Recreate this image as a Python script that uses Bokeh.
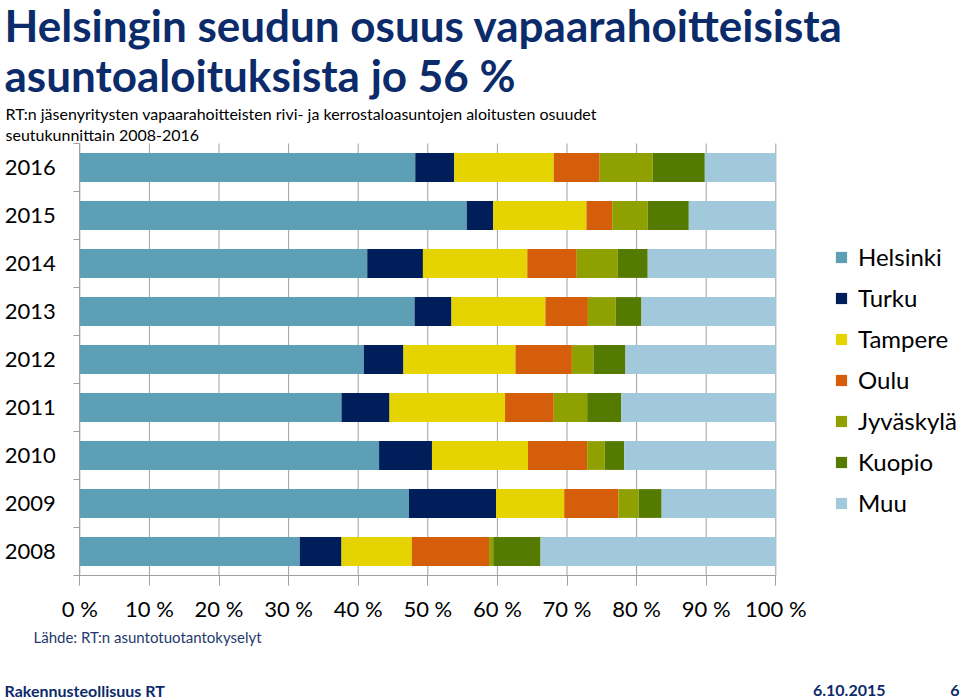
from bokeh.plotting import figure
from bokeh.models import Range1d, FixedTicker, Legend, LegendItem, ColumnDataSource, Label
from bokeh.embed import file_html
from bokeh.resources import INLINE

years = ["2008", "2009", "2010", "2011", "2012", "2013", "2014", "2015", "2016"]
regions = ["Helsinki", "Turku", "Tampere", "Oulu", "Jyväskylä", "Kuopio", "Muu"]
helsinki = [31.6, 47.3, 43.0, 37.6, 40.8, 48.1, 41.3, 55.6, 48.2]
turku = [6.0, 12.5, 7.6, 6.9, 5.7, 5.3, 8.0, 3.8, 5.6]
tampere = [10.1, 9.8, 13.8, 16.6, 16.1, 13.5, 15.0, 13.4, 14.3]
oulu = [11.1, 7.8, 8.5, 7.0, 8.1, 6.1, 7.1, 3.7, 6.6]
jyvaskyla = [0.6, 2.9, 2.5, 4.8, 3.1, 4.0, 5.9, 5.1, 7.6]
kuopio = [6.8, 3.3, 2.8, 4.9, 4.6, 3.7, 4.3, 5.9, 7.5]
muu = [33.8, 16.4, 21.8, 22.2, 21.6, 19.3, 18.4, 12.5, 10.2]
x_ticks = [0, 10, 20, 30, 40, 50, 60, 70, 80, 90, 100]
x_tick_labels = ["0 %", "10 %", "20 %", "30 %", "40 %", "50 %", "60 %", "70 %", "80 %", "90 %", "100 %"]

title_lines = ["Helsingin seudun osuus vapaarahoitteisista", "asuntoaloituksista jo 56 %"]
subtitle_lines = ["RT:n jäsenyritysten vapaarahoitteisten rivi- ja kerrostaloasuntojen aloitusten osuudet",
                  "seutukunnittain 2008-2016"]
source_text = "Lähde: RT:n asuntotuotantokyselyt"
footer_left = "Rakennusteollisuus RT"
footer_date = "6.10.2015"
footer_page = "6"

colors = ["#5DA0B5", "#001E5A", "#E5D400", "#D45E0A", "#8FA100", "#557A00", "#A2C9DB"]
FONT = "Lato"
TITLE_COLOR = "#0C2B6A"
GRID = "#A0A0A0"

# page layout (pixels)
W, H = 960, 699
PL, PR, PT, PB = 79.3, 775.3, 143, 575   # plot area edges
n = len(years)
xs = (PR - PL) / 100.0
ys = (PB - PT) / n
x_range = Range1d(-PL / xs, 100 + (W - PR) / xs)
y_range = Range1d(-0.5 - (H - PB) / ys, n - 0.5 + PT / ys)

p = figure(width=W, height=H, output_backend="svg", toolbar_location=None,
           x_range=x_range, y_range=y_range, min_border=0)
p.outline_line_color = None
p.xgrid.grid_line_color = None
p.ygrid.grid_line_color = None

ypos = list(range(n))
source = ColumnDataSource(dict(y=ypos, Helsinki=helsinki, Turku=turku, Tampere=tampere,
                               Oulu=oulu, **{"Jyväskylä": jyvaskyla}, Kuopio=kuopio, Muu=muu))

# vertical gridlines over the plot area only
p.segment(x0=x_ticks, x1=x_ticks, y0=[-0.5] * len(x_ticks), y1=[n - 0.5] * len(x_ticks),
          line_color=GRID, line_width=1)

renderers = p.hbar_stack(regions, y="y", height=0.6, color=colors, line_color=None, source=source)

# axes pinned to the plot-area edges
p.xaxis.fixed_location = -0.5
p.xaxis.bounds = (0, 100)
p.xaxis.ticker = FixedTicker(ticks=x_ticks)
p.xaxis.major_label_overrides = {t: l for t, l in zip(x_ticks, x_tick_labels)}
p.xaxis.major_label_text_font = FONT
p.xaxis.major_label_text_font_size = "22px"
p.xaxis.major_label_text_color = "#000000"
p.xaxis.major_tick_out = 10
p.xaxis.major_tick_in = 0
p.xaxis.minor_tick_line_color = None
p.xaxis.axis_line_color = GRID
p.xaxis.major_tick_line_color = GRID
p.xaxis.major_label_standoff = 9

p.yaxis.fixed_location = 0
p.yaxis.bounds = (-0.5, n - 0.5)
p.yaxis.ticker = FixedTicker(ticks=ypos, minor_ticks=[i - 0.5 for i in range(n + 1)])
p.yaxis.major_label_overrides = {i: y for i, y in enumerate(years)}
p.yaxis.major_label_text_font = FONT
p.yaxis.major_label_text_font_size = "22px"
p.yaxis.major_label_text_color = "#000000"
p.yaxis.major_tick_out = 0
p.yaxis.major_tick_in = 0
p.yaxis.minor_tick_out = 6
p.yaxis.minor_tick_in = 0
p.yaxis.minor_tick_line_color = GRID
p.yaxis.axis_line_color = GRID
p.yaxis.major_label_standoff = 18

legend = Legend(items=[LegendItem(label=r, renderers=[rr]) for r, rr in zip(regions, renderers)],
                location=(834, 182), orientation="vertical",
                glyph_width=14, glyph_height=14, spacing=12,
                label_standoff=10, padding=0, margin=0, border_line_color=None,
                background_fill_alpha=0,
                label_text_font=FONT, label_text_font_size="24px", label_text_color="#000000")
p.add_layout(legend)


def lab(text, x, y_mid, size, color, bold=False, align="left"):
    p.add_layout(Label(x=x, y=H - y_mid, x_units="screen", y_units="screen", text=text,
                       text_font=FONT, text_font_size=f"{size}px", text_color=color,
                       text_font_style="bold" if bold else "normal",
                       text_align=align, text_baseline="middle"))


lab(title_lines[0], 4, 24, 44, TITLE_COLOR, bold=True)
lab(title_lines[1], 4, 74, 44, TITLE_COLOR, bold=True)
lab(subtitle_lines[0], 5, 113, 16, "#000000")
lab(subtitle_lines[1], 5, 134, 16, "#000000")
lab(source_text, 33, 636, 15, "#1F3A6E")
lab(footer_left, 4, 690, 16, TITLE_COLOR, bold=True)
lab(footer_date, 885, 690, 16, TITLE_COLOR, bold=True, align="right")
lab(footer_page, 959, 690, 16, TITLE_COLOR, bold=True, align="right")

open("out.html", "w").write(file_html(p, INLINE))
